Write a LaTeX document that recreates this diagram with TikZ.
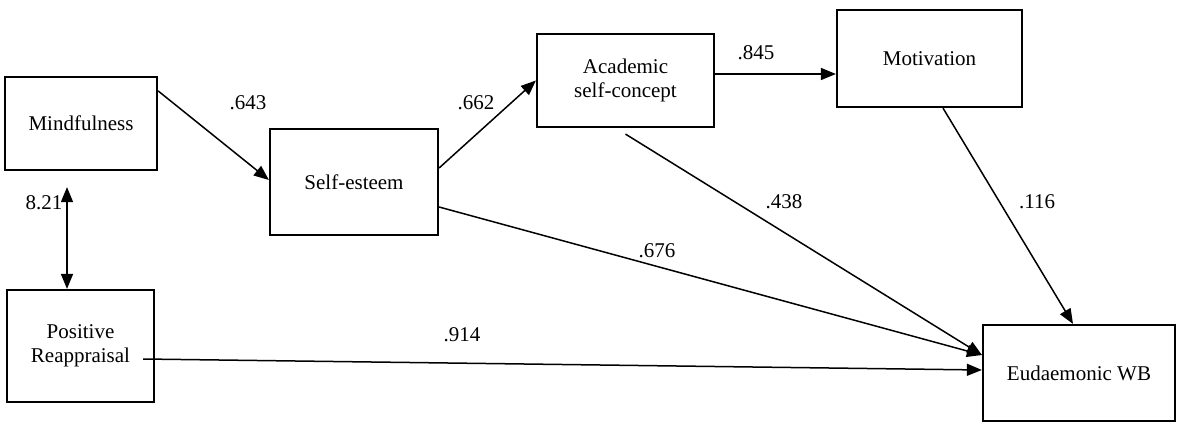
\documentclass[tikz,border=0pt]{standalone}
\usepackage{fontspec}
\setmainfont{Liberation Serif}
\newfontfamily\tnrfont{Liberation Serif}
\usetikzlibrary{arrows.meta}
\begin{document}
\begin{tikzpicture}[x=1pt,y=-1pt,
  every node/.style={font=\tnrfont\fontsize{21}{24.5}\selectfont},
  varbox/.style={draw,line width=2.2pt,rectangle,inner sep=0pt,align=center},
  arr/.style={line width=1.5pt,-{Triangle[length=15pt,width=12pt]}},
  darr/.style={line width=1.5pt,{Triangle[length=15pt,width=12pt]}-{Triangle[length=15pt,width=12pt]}},
  lbl/.style={inner sep=0pt}]
\useasboundingbox (0,0) rectangle (1177,423);
\node[varbox,minimum width=152pt,minimum height=93pt] (mind) at (81,123.5) {Mindfulness};
\node[varbox,minimum width=147pt,minimum height=112pt] (pos) at (80.5,346) {Positive\\Reappraisal};
\node[varbox,minimum width=168pt,minimum height=106pt] (self) at (354,182) {Self-esteem};
\node[varbox,minimum width=177pt,minimum height=93pt] (acad) at (625.5,80.5) {Academic\\self-concept};
\node[varbox,minimum width=185pt,minimum height=97pt] (mot) at (929.5,58.5) {Motivation};
\node[varbox,minimum width=192pt,minimum height=96pt] (eud) at (1079,373) {Eudaemonic WB};

\draw[arr] ([yshift=-15pt]mind.north east) -- ([yshift=2pt]self.west);
\draw[arr] ([yshift=14pt]self.east) -- (acad.west);
\draw[arr] ([yshift=6.5pt]acad.east) coordinate (a1) -- (a1 -| mot.west);
\draw[arr] ([yshift=-6pt]acad.south) -- ([yshift=18pt]eud.west);
\draw[arr] ([yshift=-25pt]self.east) -- ([yshift=18pt]eud.west);
\draw[arr] ([xshift=13.5pt]mot.south) -- ([xshift=-6pt]eud.north);
\draw[arr] ([xshift=-12pt,yshift=-13pt]pos.east) -- ([yshift=3pt]eud.west);
\draw[darr] ([xshift=-14pt,yshift=-16pt]mind.south) coordinate (m1) -- (m1 |- pos.north);

\node[lbl] (l643) at (248,103) {.643};
\node[lbl] (l662) at (476,103) {.662};
\node[lbl] (l845) at (756,53) {.845};
\node[lbl] (l438) at (784,202) {.438};
\node[lbl] (l116) at (1037,202) {.116};
\node[lbl] (l676) at (657,251) {.676};
\node[lbl] (l914) at (462,335) {.914};
\node[lbl] (l821) at (44,203) {8.21};
\end{tikzpicture}
\end{document}
